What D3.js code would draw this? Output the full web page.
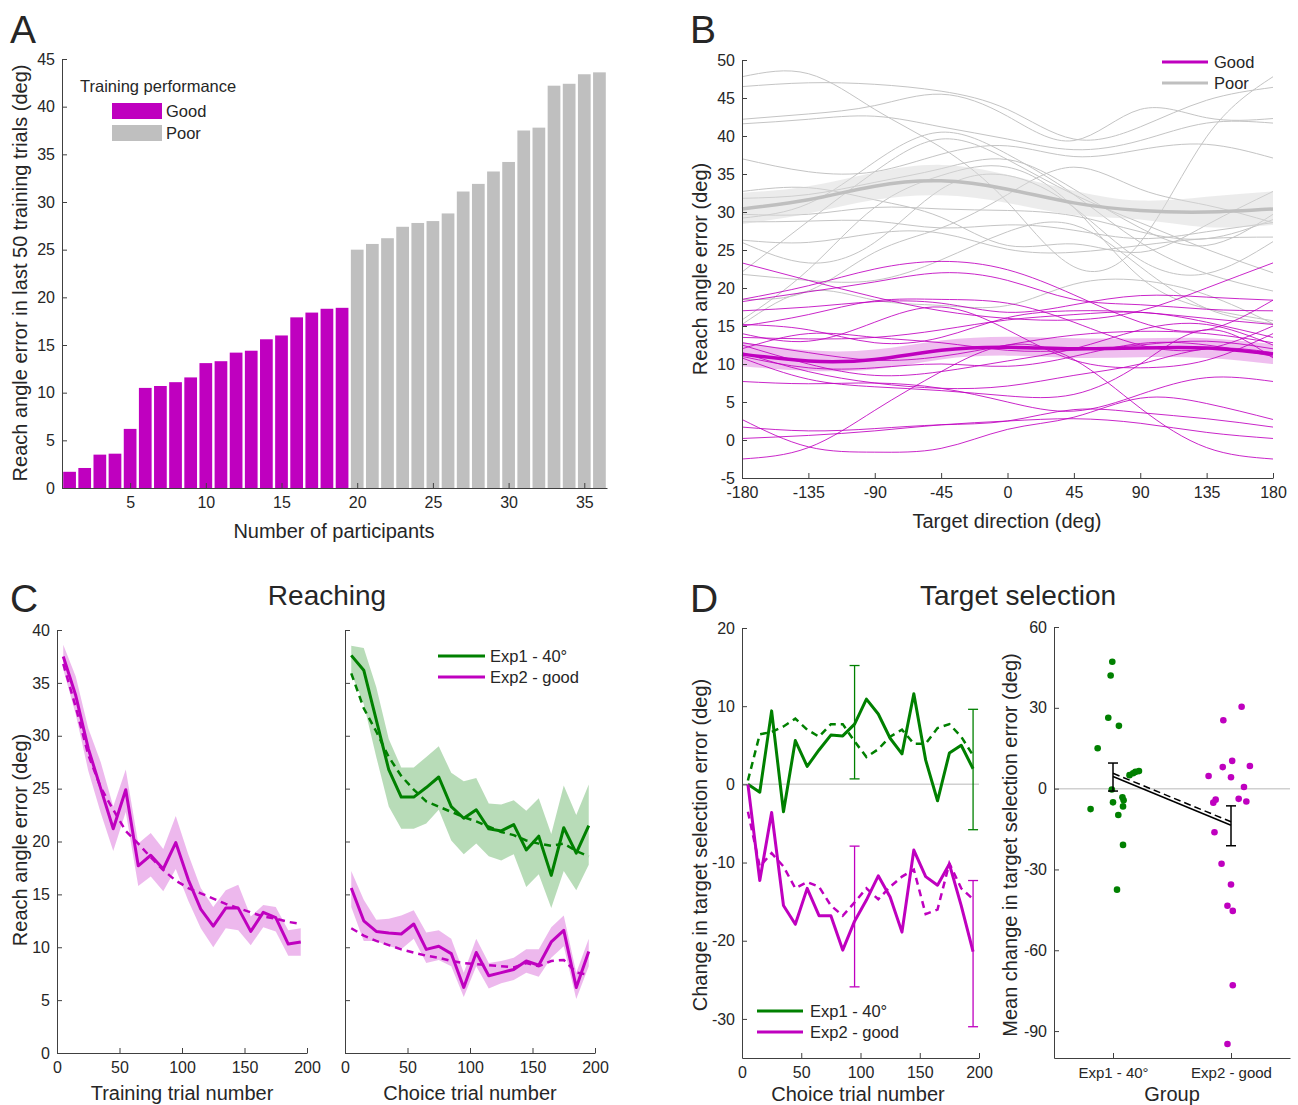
<!DOCTYPE html>
<html>
<head>
<meta charset="utf-8">
<script src="https://cdn.jsdelivr.net/npm/d3@7"></script>
<style>
body { margin: 0; background: #fff; }
svg text { font-family: "Liberation Sans", Arial, sans-serif; fill: #262626; }
.axis path, .axis line { stroke: #404040; }
.axis text { font-size: 16px; }
</style>
</head>
<body>
<div id="fig"></div>
<script>
// ---------- data ----------
// A: reach error in last 50 training trials, sorted
var goodErr = [1.7, 2.1, 3.5, 3.6, 6.2, 10.5, 10.7, 11.1, 11.6, 13.1, 13.3, 14.2, 14.4, 15.6, 16.0, 17.9, 18.4, 18.8, 18.9];
var poorErr = [25.0, 25.6, 26.2, 27.4, 27.8, 28.0, 28.8, 31.1, 31.9, 33.2, 34.2, 37.5, 37.8, 42.2, 42.4, 43.4, 43.6];

// B: reach error by target direction
var dirs = [-180, -135, -90, -45, 0, 45, 90, 135, 180];
var poorCurves = [
  [47.8, 48.2, 43.5, 38.5, 31.3, 22.8, 26.0, 39.9, 47.8],
  [46.5, 47.0, 46.8, 45.9, 43.5, 39.6, 41.2, 44.7, 46.4],
  [42.2, 42.9, 44.0, 45.5, 42.6, 39.4, 43.5, 42.4, 42.3],
  [41.6, 42.2, 42.6, 41.2, 39.6, 38.2, 39.4, 41.7, 41.7],
  [37.0, 35.3, 35.3, 37.6, 38.7, 37.3, 38.2, 38.9, 37.1],
  [32.7, 33.2, 31.6, 29.3, 25.6, 25.8, 24.7, 28.3, 32.7],
  [31.8, 32.3, 33.9, 35.7, 36.9, 33.0, 27.9, 25.6, 29.7],
  [29.7, 29.7, 30.6, 30.4, 30.2, 29.5, 27.4, 26.5, 29.0],
  [29.2, 31.1, 36.6, 40.5, 37.6, 32.3, 26.0, 21.9, 19.6],
  [28.7, 28.8, 28.8, 27.9, 28.3, 27.6, 26.5, 27.4, 28.6],
  [26.3, 26.0, 27.2, 27.2, 25.1, 24.7, 25.6, 26.5, 26.7],
  [26.0, 23.3, 26.0, 33.0, 34.8, 30.6, 23.7, 21.9, 26.1],
  [22.1, 28.8, 35.3, 39.6, 36.9, 32.3, 28.6, 25.1, 22.0],
  [21.8, 21.0, 21.0, 23.7, 27.4, 28.3, 22.8, 17.3, 15.3],
  [18.5, 19.6, 24.7, 27.9, 32.3, 35.9, 33.0, 30.9, 28.6],
  [15.8, 22.4, 30.6, 34.8, 35.9, 30.6, 21.4, 17.3, 15.7],
  [15.2, 19.6, 18.4, 17.7, 17.7, 20.5, 21.0, 19.1, 15.3]
];
var goodCurves = [
  [23.3, 21.0, 18.8, 17.0, 16.0, 15.8, 17.0, 20.0, 23.3],
  [18.5, 20.3, 22.5, 23.5, 22.4, 19.1, 15.5, 14.5, 18.4],
  [18.2, 19.5, 20.8, 22.0, 21.0, 18.5, 17.8, 17.2, 17.0],
  [17.0, 17.5, 18.2, 18.0, 16.8, 17.8, 19.0, 18.8, 18.4],
  [15.2, 14.5, 12.8, 13.5, 16.1, 17.0, 16.8, 16.0, 15.2],
  [15.0, 16.5, 18.3, 18.5, 18.0, 15.5, 12.5, 12.0, 15.0],
  [14.0, 13.0, 15.5, 17.5, 14.5, 10.5, 9.5, 10.5, 14.0],
  [13.5, 13.3, 13.5, 14.5, 15.8, 16.5, 16.8, 15.5, 13.5],
  [12.8, 11.5, 10.5, 11.0, 12.5, 13.8, 14.3, 14.0, 12.8],
  [12.5, 10.0, 8.5, 9.0, 10.4, 12.0, 14.5, 15.2, 12.5],
  [12.0, 14.0, 13.5, 12.8, 11.8, 11.8, 12.5, 13.0, 12.0],
  [11.5, 9.0, 7.5, 6.8, 7.1, 8.5, 10.0, 12.0, 11.5],
  [11.0, 9.5, 9.5, 10.0, 9.7, 11.0, 12.7, 12.5, 11.0],
  [10.8, 8.0, 7.0, 6.5, 5.8, 6.0, 10.0, 14.5, 10.8],
  [7.7, 7.4, 7.5, 6.8, 5.0, 3.8, 6.0, 8.2, 7.7],
  [2.7, -0.9, -1.6, -1.1, 1.4, 3.0, 5.5, 4.8, 2.7],
  [1.7, 1.2, 1.5, 2.0, 2.5, 4.0, 3.6, 2.8, 1.7],
  [0.2, 0.6, 1.2, 2.0, 2.5, 2.8, 2.2, 1.0, 0.2],
  [-2.5, -1.0, 3.9, 9.0, 12.5, 10.6, 4.2, -1.0, -2.5]
];
var poorMean = [30.4, 31.6, 33.4, 34.1, 33.0, 31.2, 30.2, 30.0, 30.4];
var poorLo   = [28.4, 29.8, 31.6, 32.2, 31.2, 29.6, 29.0, 28.0, 28.3];
var poorHi   = [32.5, 33.4, 35.2, 36.2, 34.9, 32.8, 31.5, 32.0, 32.7];
var goodMean = [11.3, 10.4, 10.6, 11.8, 12.2, 12.0, 12.1, 12.1, 11.3];
var goodLo   = [9.7, 9.1, 9.3, 10.6, 11.1, 10.8, 10.9, 10.8, 10.0];
var goodHi   = [12.9, 11.8, 11.9, 13.1, 13.6, 13.4, 13.4, 13.4, 12.6];

// C: reaching error over trials (bins of 10 trials)
var trialBins = [5, 15, 25, 35, 45, 55, 65, 75, 85, 95, 105, 115, 125, 135, 145, 155, 165, 175, 185, 195];
var trainMean = [37.5, 33.8, 28.8, 25.0, 21.2, 24.9, 17.7, 18.7, 17.4, 19.9, 16.4, 13.6, 12.0, 13.7, 13.7, 11.5, 13.3, 12.8, 10.3, 10.5];
var trainHi   = [38.6, 35.6, 30.7, 27.5, 23.3, 26.8, 19.8, 20.8, 19.3, 22.4, 18.8, 15.6, 13.8, 15.4, 15.9, 12.9, 14.0, 13.8, 11.6, 11.8];
var trainLo   = [36.3, 32.0, 26.7, 22.7, 19.1, 22.8, 15.8, 16.7, 15.3, 17.4, 14.4, 11.8, 10.0, 11.8, 11.6, 10.2, 11.9, 11.5, 9.2, 9.2];
var trainFit  = [36.8, 32.7, 28.2, 25.1, 23.0, 21.0, 19.8, 18.5, 17.3, 16.3, 15.6, 15.1, 14.6, 14.1, 13.7, 13.3, 12.9, 12.7, 12.4, 12.2];

var exp1Reach   = [37.6, 36.2, 31.5, 26.8, 24.2, 24.2, 25.1, 26.1, 23.3, 22.2, 23.0, 21.2, 21.0, 21.6, 19.2, 20.5, 16.8, 21.3, 18.9, 21.5];
var exp1ReachHi = [38.5, 38.3, 34.6, 29.7, 27.0, 27.0, 28.0, 29.0, 26.5, 25.7, 26.0, 23.6, 23.5, 23.9, 22.9, 24.1, 20.7, 25.3, 22.5, 25.4];
var exp1ReachLo = [35.9, 33.0, 28.0, 23.3, 21.2, 21.2, 21.7, 23.0, 20.1, 18.8, 19.8, 18.6, 18.2, 18.8, 15.7, 16.9, 13.7, 17.2, 15.4, 17.8];
var exp1ReachFit = [35.9, 32.6, 30.4, 28.0, 26.2, 24.9, 23.8, 23.3, 22.8, 22.3, 21.9, 21.4, 20.9, 20.6, 20.1, 19.8, 19.6, 19.8, 19.1, 18.6];

var exp2Reach   = [15.6, 12.5, 11.5, 11.35, 11.25, 12.2, 9.8, 10.1, 9.4, 6.2, 9.5, 7.3, 7.6, 7.9, 8.7, 8.3, 10.5, 11.6, 6.2, 9.6];
var exp2ReachHi = [17.2, 14.5, 12.6, 12.7, 13.0, 13.5, 11.4, 11.6, 10.8, 7.6, 10.8, 8.5, 8.7, 9.0, 9.8, 9.8, 11.9, 13.0, 7.6, 10.8];
var exp2ReachLo = [13.8, 10.6, 10.6, 10.1, 9.8, 10.8, 8.5, 8.8, 8.2, 5.3, 8.2, 6.1, 6.6, 6.9, 7.6, 7.2, 9.0, 10.1, 5.1, 8.2];
var exp2ReachFit = [11.8, 11.1, 10.6, 10.2, 9.8, 9.5, 9.2, 9.0, 8.7, 8.5, 8.4, 8.3, 8.2, 8.1, 8.5, 8.2, 8.7, 8.8, 7.6, 7.4];

// D: change in target selection error
var exp1Sel    = [0, -1.0, 9.4, -3.5, 5.6, 2.3, 4.4, 6.3, 6.2, 7.7, 10.9, 9.0, 5.9, 3.9, 11.6, 3.1, -2.1, 4.0, 5.0, 2.0];
var exp1SelFit = [0.5, 6.4, 6.7, 7.4, 8.4, 7.0, 6.1, 7.7, 7.7, 5.5, 3.5, 4.5, 6.1, 7.0, 5.2, 5.2, 7.2, 7.7, 6.1, 3.7];
var exp2Sel    = [0, -12.3, -3.6, -15.5, -17.9, -13.3, -16.8, -16.8, -21.2, -17.5, -14.8, -11.7, -14.4, -18.9, -8.4, -11.8, -12.9, -10.2, -15.5, -21.4];
var exp2SelFit = [-3.5, -10.5, -8.8, -10.5, -13.3, -12.5, -13.1, -15.5, -16.8, -15.1, -13.3, -14.7, -13.1, -11.8, -10.9, -16.6, -16.0, -10.1, -13.3, -14.7];
var errTrials = [95, 195];
var exp1SelHi = [15.2, 9.6], exp1SelLo = [0.7, -5.8];
var exp2SelHi = [-7.9, -12.3], exp2SelLo = [-25.9, -31.0];

// D right: per-participant mean change
var groupNames = ["Exp1 - 40\u00b0", "Exp2 - good"];
var exp1Pts    = [47.1, 42.0, 26.3, 23.3, 15.0, 5.0, 5.7, 6.2, 6.5, -0.3, -5.1, -3.2, -4.3, -6.6, -7.6, -9.8, -20.9, -37.5];
var exp1Jitter = [-0.006, -0.02, -0.04, 0.05, -0.13, 0.14, 0.17, 0.19, 0.22, -0.01, 0, 0.08, 0.09, 0.085, -0.19, 0.045, 0.085, 0.034];
var exp2Pts    = [30.4, 25.4, 4.7, 8.0, 10.3, 8.4, 4.2, 0.6, -5.2, -4.1, -3.8, -4.8, -16.2, -27.9, -35.6, -43.5, -45.4, -73.0, -94.8];
var exp2Jitter = [0.09, -0.065, -0.19, -0.07, 0.01, 0.16, 0, 0.11, -0.15, -0.13, 0.065, 0.13, -0.14, -0.08, 0, -0.03, 0.015, 0.015, -0.03];
var groupMean = [4.5, -13.6];
var groupMeanFit = [5.7, -12.3];
var groupHi = [9.5, -6.4], groupLo = [-0.9, -21.2];

// ---------- setup ----------
var magenta = "#bf00bf", green = "#008000", grey = "#bfbfbf";
var plain = d => String(d);   // hyphen minus like the original

var svg = d3.select("#fig").append("svg")
  .attr("width", 1298)
  .attr("height", 1105);

svg.append("rect").attr("width", 1298).attr("height", 1105).attr("fill", "#fff");

function addAxis(gen, tx, ty, size) {
  var a = svg.append("g")
    .attr("class", "axis")
    .attr("transform", `translate(${tx}, ${ty})`)
    .call(gen);
  if (size) a.selectAll("text").style("font-size", size);
  return a;
}

function label(txt, x, y, size, rot) {
  var t = svg.append("text")
    .attr("text-anchor", "middle")
    .attr("dominant-baseline", "central")
    .style("font-size", size + "px")
    .text(txt);
  if (rot) t.attr("transform", `translate(${x}, ${y}) rotate(-90)`);
  else t.attr("x", x).attr("y", y);
  return t;
}

function legendText(txt, x, y) {
  svg.append("text").attr("x", x).attr("y", y)
    .attr("dominant-baseline", "central")
    .style("font-size", "16.5px").text(txt);
}

function panelLetter(txt, x, y) {
  svg.append("text").attr("x", x).attr("y", y)
    .style("font-size", "39px").text(txt);
}

// ---------- panel A ----------
var xA = d3.scaleLinear().domain([0.5, 36.5]).range([62, 607]);
var yA = d3.scaleLinear().domain([0, 45]).range([488, 59]);
var barW = (xA(1) - xA(0)) * 0.84;

var allErr = goodErr.map(function(v) { return {v: v, good: true}; })
  .concat(poorErr.map(function(v) { return {v: v, good: false}; }));

svg.append("g").selectAll("rect")
  .data(allErr)
  .enter()
  .append("rect")
  .attr("x", (d, i) => xA(i + 1) - barW / 2)
  .attr("y", d => yA(d.v))
  .attr("width", barW)
  .attr("height", d => yA(0) - yA(d.v))
  .attr("fill", d => d.good ? magenta : grey);

addAxis(d3.axisLeft(yA).tickValues(d3.range(0, 46, 5)).tickFormat(plain).tickSize(-5).tickSizeOuter(0).tickPadding(7), 62, 0);
addAxis(d3.axisBottom(xA).tickValues([5, 10, 15, 20, 25, 30, 35]).tickFormat(plain).tickSize(-5).tickSizeOuter(0).tickPadding(9), 0, 488);

label("Reach angle error in last 50 training trials (deg)", 20, 273, 20, true);
label("Number of participants", 334, 531, 20);

svg.append("text").attr("x", 80).attr("y", 86).attr("dominant-baseline", "central")
  .style("font-size", "16.5px").text("Training performance");
svg.append("rect").attr("x", 112).attr("y", 103).attr("width", 50).attr("height", 16).attr("fill", magenta);
svg.append("rect").attr("x", 112).attr("y", 125).attr("width", 50).attr("height", 16).attr("fill", grey);
legendText("Good", 166, 111);
legendText("Poor", 166, 133);

panelLetter("A", 10, 43);

// ---------- panel B ----------
var xB = d3.scaleLinear().domain([-180, 180]).range([742, 1273]);
var yB = d3.scaleLinear().domain([-5, 50]).range([478, 60]);

var lineB = d3.line()
  .x((d, i) => xB(dirs[i]))
  .y(d => yB(d))
  .curve(d3.curveNatural);

var bandB = d3.area()
  .x((d, i) => xB(dirs[i]))
  .y0(d => yB(d[0]))
  .y1(d => yB(d[1]))
  .curve(d3.curveNatural);

svg.append("g").selectAll("path")
  .data(poorCurves)
  .enter()
  .append("path")
  .attr("d", lineB)
  .attr("fill", "none")
  .attr("stroke", "#c4c4c4")
  .attr("stroke-width", 1);

svg.append("path")
  .attr("d", bandB(poorLo.map((v, i) => [v, poorHi[i]])))
  .attr("fill", "#d9d9d9")
  .attr("opacity", 0.5);
svg.append("path")
  .attr("d", lineB(poorMean))
  .attr("fill", "none")
  .attr("stroke", grey)
  .attr("stroke-width", 3.5);

svg.append("g").selectAll("path")
  .data(goodCurves)
  .enter()
  .append("path")
  .attr("d", lineB)
  .attr("fill", "none")
  .attr("stroke", magenta)
  .attr("stroke-opacity", 0.85)
  .attr("stroke-width", 1);

svg.append("path")
  .attr("d", bandB(goodLo.map((v, i) => [v, goodHi[i]])))
  .attr("fill", magenta)
  .attr("opacity", 0.25);
svg.append("path")
  .attr("d", lineB(goodMean))
  .attr("fill", "none")
  .attr("stroke", magenta)
  .attr("stroke-width", 3.5);

addAxis(d3.axisLeft(yB).tickValues(d3.range(-5, 51, 5)).tickFormat(plain).tickSize(-5).tickSizeOuter(0).tickPadding(7), 742, 0);
addAxis(d3.axisBottom(xB).tickValues(dirs).tickFormat(plain).tickSize(-5).tickSizeOuter(0).tickPadding(9), 0, 478);

label("Reach angle error (deg)", 700, 269, 20, true);
label("Target direction (deg)", 1007, 521, 20);

svg.append("line").attr("x1", 1162).attr("x2", 1208).attr("y1", 62).attr("y2", 62).attr("stroke", magenta).attr("stroke-width", 3);
svg.append("line").attr("x1", 1162).attr("x2", 1208).attr("y1", 83).attr("y2", 83).attr("stroke", grey).attr("stroke-width", 3);
legendText("Good", 1214, 62);
legendText("Poor", 1214, 83);

panelLetter("B", 690, 43);

// ---------- panel C ----------
var yC = d3.scaleLinear().domain([0, 40]).range([1053, 630]);
var xCL = d3.scaleLinear().domain([0, 200]).range([57, 307]);
var xCR = d3.scaleLinear().domain([0, 200]).range([345, 595]);

function drawSeries(xs, ys, mean, lo, hi, fit, col) {
  if (lo) {
    svg.append("path")
      .attr("d", d3.area()
        .x((d, i) => xs(trialBins[i]))
        .y0((d, i) => ys(lo[i]))
        .y1((d, i) => ys(hi[i]))(mean))
      .attr("fill", col)
      .attr("opacity", 0.28);
  }
  var ln = d3.line().x((d, i) => xs(trialBins[i])).y(d => ys(d));
  svg.append("path").attr("d", ln(fit))
    .attr("fill", "none").attr("stroke", col)
    .attr("stroke-width", 2.5).attr("stroke-dasharray", "7,5");
  svg.append("path").attr("d", ln(mean))
    .attr("fill", "none").attr("stroke", col)
    .attr("stroke-width", 3).attr("stroke-linejoin", "round");
}

drawSeries(xCL, yC, trainMean, trainLo, trainHi, trainFit, magenta);
drawSeries(xCR, yC, exp1Reach, exp1ReachLo, exp1ReachHi, exp1ReachFit, green);
drawSeries(xCR, yC, exp2Reach, exp2ReachLo, exp2ReachHi, exp2ReachFit, magenta);

addAxis(d3.axisLeft(yC).tickValues(d3.range(0, 41, 5)).tickFormat(plain).tickSize(-5).tickSizeOuter(0).tickPadding(7), 57, 0);
addAxis(d3.axisBottom(xCL).tickValues([0, 50, 100, 150, 200]).tickFormat(plain).tickSize(-5).tickSizeOuter(0).tickPadding(9), 0, 1053);
addAxis(d3.axisLeft(yC).tickValues(d3.range(0, 41, 5)).tickSize(-5).tickSizeOuter(0).tickFormat(""), 345, 0);
addAxis(d3.axisBottom(xCR).tickValues([0, 50, 100, 150, 200]).tickFormat(plain).tickSize(-5).tickSizeOuter(0).tickPadding(9), 0, 1053);

label("Reach angle error (deg)", 20, 840, 20, true);
label("Training trial number", 182, 1093, 20);
label("Choice trial number", 470, 1093, 20);
label("Reaching", 327, 595, 28);

svg.append("line").attr("x1", 438).attr("x2", 485).attr("y1", 656).attr("y2", 656).attr("stroke", green).attr("stroke-width", 3);
svg.append("line").attr("x1", 438).attr("x2", 485).attr("y1", 677).attr("y2", 677).attr("stroke", magenta).attr("stroke-width", 3);
legendText("Exp1 - 40\u00b0", 490, 656);
legendText("Exp2 - good", 490, 677);

panelLetter("C", 10, 612);

// ---------- panel D left ----------
var xDL = d3.scaleLinear().domain([0, 200]).range([742, 979]);
var yDL = d3.scaleLinear().domain([-35, 20]).range([1058, 628]);

svg.append("line").attr("x1", xDL(0)).attr("x2", xDL(200)).attr("y1", yDL(0)).attr("y2", yDL(0))
  .attr("stroke", "#d0d0d0").attr("stroke-width", 1.5);

drawSeries(xDL, yDL, exp1Sel, null, null, exp1SelFit, green);
drawSeries(xDL, yDL, exp2Sel, null, null, exp2SelFit, magenta);

function errBars(xs, ys, xv, hi, lo, col, cap, w) {
  xv.forEach(function(x, i) {
    var g = svg.append("g").attr("stroke", col).attr("stroke-width", w);
    g.append("line").attr("x1", xs(x)).attr("x2", xs(x)).attr("y1", ys(hi[i])).attr("y2", ys(lo[i]));
    g.append("line").attr("x1", xs(x) - cap).attr("x2", xs(x) + cap).attr("y1", ys(hi[i])).attr("y2", ys(hi[i]));
    g.append("line").attr("x1", xs(x) - cap).attr("x2", xs(x) + cap).attr("y1", ys(lo[i])).attr("y2", ys(lo[i]));
  });
}
errBars(xDL, yDL, errTrials, exp1SelHi, exp1SelLo, green, 5, 1.3);
errBars(xDL, yDL, errTrials, exp2SelHi, exp2SelLo, magenta, 5, 1.3);

addAxis(d3.axisLeft(yDL).tickValues([-30, -20, -10, 0, 10, 20]).tickFormat(plain).tickSize(-5).tickSizeOuter(0).tickPadding(7), 742, 0);
addAxis(d3.axisBottom(xDL).tickValues([0, 50, 100, 150, 200]).tickFormat(plain).tickSize(-5).tickSizeOuter(0).tickPadding(9), 0, 1058);

label("Change in target selection error (deg)", 700, 845, 20, true);
label("Choice trial number", 858, 1094, 20);

svg.append("line").attr("x1", 757).attr("x2", 803).attr("y1", 1011).attr("y2", 1011).attr("stroke", green).attr("stroke-width", 3);
svg.append("line").attr("x1", 757).attr("x2", 803).attr("y1", 1032).attr("y2", 1032).attr("stroke", magenta).attr("stroke-width", 3);
legendText("Exp1 - 40\u00b0", 810, 1011);
legendText("Exp2 - good", 810, 1032);

// ---------- panel D right ----------
var xDR = d3.scaleLinear().domain([0.5, 2.5]).range([1054, 1290]);
var yDR = d3.scaleLinear().domain([-100, 60]).range([1058, 627]);

svg.append("line").attr("x1", xDR(0.5)).attr("x2", xDR(2.5)).attr("y1", yDR(0)).attr("y2", yDR(0))
  .attr("stroke", "#d0d0d0").attr("stroke-width", 1.5);

svg.append("g").selectAll("circle")
  .data(exp1Pts)
  .enter()
  .append("circle")
  .attr("cx", (d, i) => xDR(1 + exp1Jitter[i]))
  .attr("cy", d => yDR(d))
  .attr("r", 3.3)
  .attr("fill", green);

svg.append("g").selectAll("circle")
  .data(exp2Pts)
  .enter()
  .append("circle")
  .attr("cx", (d, i) => xDR(2 + exp2Jitter[i]))
  .attr("cy", d => yDR(d))
  .attr("r", 3.3)
  .attr("fill", magenta);

var lnDR = d3.line().x((d, i) => xDR(i + 1)).y(d => yDR(d));
svg.append("path").attr("d", lnDR(groupMeanFit))
  .attr("fill", "none").attr("stroke", "#000").attr("stroke-width", 1.5).attr("stroke-dasharray", "7,4");
svg.append("path").attr("d", lnDR(groupMean))
  .attr("fill", "none").attr("stroke", "#000").attr("stroke-width", 1.5);
errBars(xDR, yDR, [1, 2], groupHi, groupLo, "#000", 5, 1.5);

addAxis(d3.axisLeft(yDR).tickValues([-90, -60, -30, 0, 30, 60]).tickFormat(plain).tickSize(-5).tickSizeOuter(0).tickPadding(7), 1054, 0);
addAxis(d3.axisBottom(xDR).tickValues([1, 2]).tickFormat((d, i) => groupNames[i]).tickSize(-5).tickSizeOuter(0).tickPadding(9), 0, 1058, "15px");

label("Mean change in target selection error (deg)", 1010, 845, 20, true);
label("Group", 1172, 1094, 20);
label("Target selection", 1018, 595, 28);

panelLetter("D", 690, 612);
</script>
</body>
</html>
